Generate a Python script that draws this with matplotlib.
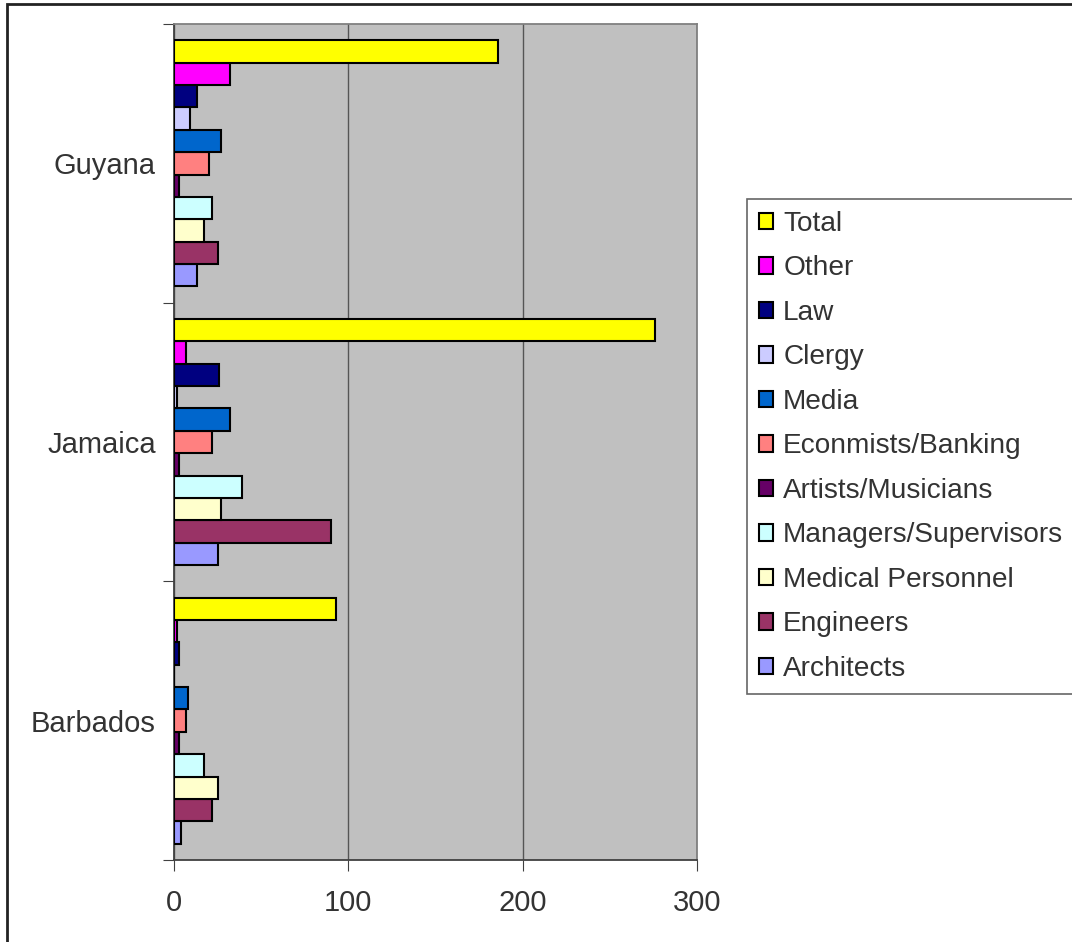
import matplotlib.pyplot as plt
import matplotlib.patches as patches
import numpy as np

plt.rcParams['font.family'] = ['Liberation Sans', 'DejaVu Sans']

# categories from bottom to top
countries = ["Barbados", "Jamaica", "Guyana"]

# series from bottom of each group to top
series_names = ["Architects", "Engineers", "Medical Personnel", "Managers/Supervisors",
                "Artists/Musicians", "Econmists/Banking", "Media", "Clergy", "Law",
                "Other", "Total"]
series_colors = ["#9999FF", "#993366", "#FFFFCC", "#CCFFFF", "#660066", "#FF8080",
                 "#0066CC", "#CCCCFF", "#000080", "#FF00FF", "#FFFF00"]

# values per series: [Barbados, Jamaica, Guyana]
architects = [4, 25, 13]
engineers = [22, 90, 25]
medical = [25, 27, 17]
managers = [17, 39, 22]
artists = [3, 3, 3]
economists = [7, 22, 20]
media = [8, 32, 27]
clergy = [0, 2, 9]
law = [3, 26, 13]
other = [2, 7, 32]
total = [93, 276, 186]

values = [architects, engineers, medical, managers, artists, economists,
          media, clergy, law, other, total]

text_col = "#333333"

fig = plt.figure(figsize=(10.72, 9.42), dpi=100)
ax = fig.add_axes([174 / 1072, 1 - 860 / 942, 523 / 1072, 836 / 942])
ax.set_facecolor("#C0C0C0")

n = len(series_names)
h = 0.0802
y = np.arange(len(countries))
for j in range(n):
    ax.barh(y + (j - (n - 1) / 2) * h, values[j], height=h, color=series_colors[j],
            edgecolor="black", linewidth=1.5, label=series_names[j], zorder=3)

ax.set_xlim(0, 300)
ax.set_ylim(-0.5, 2.5)
ax.set_xticks([0, 100, 200, 300])
ax.set_xticklabels(["0", "100", "200", "300"], fontsize=21, color=text_col)
ax.xaxis.grid(True, color="#555555", linewidth=1, zorder=1)

ax.set_yticks([-0.5, 0.5, 1.5, 2.5])
ax.set_yticklabels([])
ax.set_yticks(y, minor=True)
ax.set_yticklabels(countries, minor=True, fontsize=21, color=text_col)
ax.tick_params(axis="y", which="major", length=8, direction="out", color="#404040")
ax.tick_params(axis="y", which="minor", length=0, pad=13)
ax.tick_params(axis="x", length=8, direction="out", color="#404040", pad=13)

ax.spines["left"].set_color("#404040")
ax.spines["bottom"].set_color("#404040")
ax.spines["top"].set_color("#808080")
ax.spines["right"].set_color("#808080")
for s in ax.spines.values():
    s.set_linewidth(1.3)

handles, labels = ax.get_legend_handles_labels()
leg = fig.legend(handles[::-1], labels[::-1], loc="upper left",
                 bbox_to_anchor=(747 / 1072, 1 - 199 / 942), fontsize=20.2,
                 frameon=True, fancybox=False, handlelength=0.52, handleheight=0.52,
                 handletextpad=0.35, labelspacing=0.66, borderpad=0.42,
                 borderaxespad=0)
leg.get_frame().set_edgecolor("#404040")
leg.get_frame().set_linewidth(1.2)
for t in leg.get_texts():
    t.set_color(text_col)

# outer chart border
fig.patches.append(patches.Rectangle((7 / 1072, -0.1), 1.2, 1 - 4 / 942 + 0.1,
                                     transform=fig.transFigure, fill=False,
                                     edgecolor="#222222", linewidth=2))

fig.savefig("out.png", dpi=100)
